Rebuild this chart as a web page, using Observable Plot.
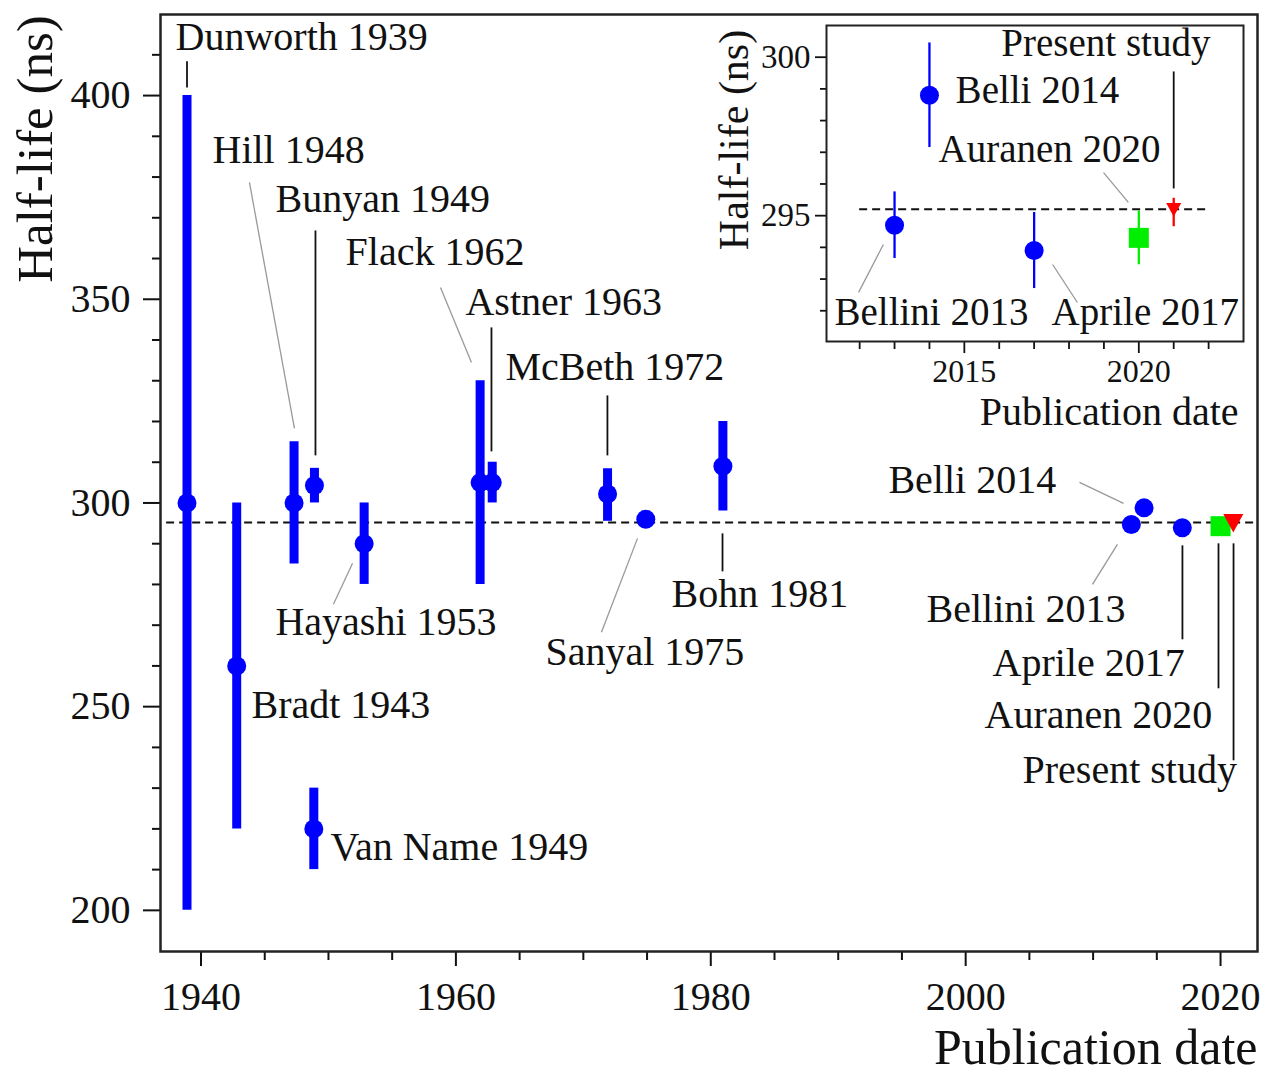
<!DOCTYPE html>
<html><head><meta charset="utf-8">
<script src="https://cdn.jsdelivr.net/npm/d3@7"></script>
<script src="https://cdn.jsdelivr.net/npm/@observablehq/plot@0.6"></script>
<style>
body{margin:0;background:#fff;}
#wrap{position:relative;width:1266px;height:1075px;}
#inset{position:absolute;left:690px;top:0;}
</style></head>
<body><div id="wrap"><div id="main"></div><div id="inset"></div></div>
<script>
// ---------- data ----------
const studies  = ["Dunworth 1939","Bradt 1943","Hill 1948","Bunyan 1949","Van Name 1949","Hayashi 1953","Flack 1962","Astner 1963","McBeth 1972","Sanyal 1975","Bohn 1981","Bellini 2013","Belli 2014","Aprile 2017","Auranen 2020","Present study"];
const pubYear  = [1938.9,1942.8,1947.3,1948.9,1948.85,1952.8,1961.9,1962.85,1971.9,1974.9,1980.95,2013.0,2014.0,2017.0,2020.0,2021.0];
const halfLife = [300,260,300,304.3,220,290,305,305,302.2,296,309,294.7,298.8,293.9,294.3,295.2];
const errLow   = [200,220,285,300,210,280,280,300,295.5,294,298,293.65,297.15,292.7,293.45,294.65];
const errHigh  = [400,300,315,308.5,230,300,330,310,308.4,298,320,295.75,300.45,295.1,295.15,295.55];
const series   = ["prev","prev","prev","prev","prev","prev","prev","prev","prev","prev","prev","prev","prev","prev","auranen","present"];
const seriesColor = {prev:"#0000ff", auranen:"#00ee00", present:"#ff0000"};

const refValue = [295.2];
const mainRefSpan = [1937.3, 2022.8];
const insetRefSpan = [2012.0, 2022.0];

// main ticks
const yMajor = [200,250,300,350,400];
const yMinor = [210,220,230,240,260,270,280,290,310,320,330,340,360,370,380,390,410];
const xMajor = [1940,1960,1980,2000,2020];
const xMinor = [1945,1950,1955,1965,1970,1975,1985,1990,1995,2005,2010,2015];
// inset ticks
const iyMajor = [295,300];
const iyMinor = [292,293,294,296,297,298,299];
const ixMajor = [2015,2020];
const ixMinor = [2012,2013,2014,2016,2017,2018,2019,2021,2022];

// main annotation labels (anchor year, baseline value)
const mainLabelText = ["Dunworth 1939","Hill 1948","Bunyan 1949","Flack 1962","Astner 1963","McBeth 1972","Hayashi 1953","Bradt 1943","Van Name 1949","Sanyal 1975","Bohn 1981","Belli 2014","Bellini 2013","Aprile 2017","Auranen 2020","Present study"];
const mainLabelX = [1938.0,1940.9,1945.84,1951.34,1960.75,1963.89,1945.84,1943.96,1950.16,1967.03,1976.92,1993.94,1996.93,2002.11,2001.48,2004.46];
const mainLabelY = [411.07,383.34,371.31,358.31,346.03,330.08,267.51,247.14,212.29,260.15,274.38,302.35,270.70,257.45,244.69,231.19];

// main leader lines
const mLeadX1 = [1938.9,1943.80,1948.98,1958.79,1962.79,1971.89,1950.39,1971.42,1980.92,2008.93,2009.95,2017.01,2019.84,2021.02];
const mLeadY1 = [408.4,378.67,366.89,352.91,343.09,326.40,275.12,268.25,292.54,305.06,280.02,289.60,290.09,290.09];
const mLeadX2 = [1938.9,1947.33,1948.98,1961.22,1962.79,1971.89,1951.89,1974.25,1980.92,2012.39,2011.91,2017.01,2019.84,2021.02];
const mLeadY2 = [402.0,318.31,311.68,334.50,312.66,311.68,285.18,291.31,283.21,299.90,289.84,266.53,254.51,236.83];
const mLeadKind = ["black","gray","black","gray","black","black","gray","gray","black","gray","gray","black","black","black"];

// inset labels
const insetLabelText = ["Present study","Belli 2014","Auranen 2020","Bellini 2013","Aprile 2017"];
const insetLabelX = [2016.06,2014.75,2014.26,2011.28,2017.5];
const insetLabelY = [300.05,298.54,296.68,291.54,291.54];
// inset leaders
const iLeadX1 = [2021.0,2018.99,2011.97,2017.53];
const iLeadY1 = [299.55,296.36,292.58,293.46];
const iLeadX2 = [2021.0,2019.70,2012.68,2018.24];
const iLeadY2 = [295.86,295.42,294.09,292.26];
const iLeadKind = ["black","gray","gray","gray"];

// ---------- build ----------
const FONT = "'Liberation Serif','Times New Roman',Times,serif";
const leadColor = {black:"#111", gray:"#999"};
const leadWidth = {black:1.8, gray:1.3};

const rows = studies.map((s,i)=>({name:s, year:pubYear[i], value:halfLife[i], lo:errLow[i], hi:errHigh[i], series:series[i], color:seriesColor[series[i]]}));
const modern = rows.filter(d=>d.year>2010);
const mainLabels = mainLabelText.map((t,i)=>({t, x:mainLabelX[i], y:mainLabelY[i]}));
const mainLeads = mLeadX1.map((v,i)=>({x1:v,y1:mLeadY1[i],x2:mLeadX2[i],y2:mLeadY2[i],stroke:leadColor[mLeadKind[i]],w:leadWidth[mLeadKind[i]]}));
const insetLabels = insetLabelText.map((t,i)=>({t, x:insetLabelX[i], y:insetLabelY[i]}));
const insetLeads = iLeadX1.map((v,i)=>({x1:v,y1:iLeadY1[i],x2:iLeadX2[i],y2:iLeadY2[i],stroke:leadColor[iLeadKind[i]],w:leadWidth[iLeadKind[i]]}));

function triDown(top, bot){
  return {draw(ctx,size){const s=Math.sqrt(size/Math.PI);ctx.moveTo(-s,-top*s);ctx.lineTo(s,-top*s);ctx.lineTo(0,bot*s);ctx.closePath();}};
}

function dotMarks(data, rc, rs, rt, tri){
  return [
    Plot.dot(data.filter(d=>d.series==="prev"), {x:"year", y:"value", r:rc, fill:"color", stroke:null}),
    Plot.dot(data.filter(d=>d.series==="auranen"), {x:"year", y:"value", r:rs, symbol:"square", fill:"color", stroke:null}),
    Plot.dot(data.filter(d=>d.series==="present"), {x:"year", y:"value", r:rt, symbol:tri, fill:"color", stroke:null})
  ];
}

const main = Plot.plot({
  width:1266, height:1075,
  marginLeft:160, marginRight:9, marginTop:14, marginBottom:124,
  style:{fontFamily:FONT, background:"transparent", overflow:"visible", color:"#111"},
  x:{domain:[1936.82,2022.9]},
  y:{domain:[189.9,419.9]},
  color:{type:"identity"},
  marks:[
    Plot.axisY(yMajor,{tickSize:17,tickPadding:13,fontSize:40,label:null,strokeWidth:2}),
    Plot.axisY(yMinor,{tickSize:8,text:null,label:null,strokeWidth:2}),
    Plot.axisX(xMajor,{tickSize:15,tickPadding:15,fontSize:40,label:null,strokeWidth:2,tickFormat:d=>String(d)}),
    Plot.axisX(xMinor,{tickSize:9,text:null,label:null,strokeWidth:2}),
    Plot.ruleY(refValue,{x1:mainRefSpan[0],x2:mainRefSpan[1],stroke:"#111",strokeWidth:2,strokeDasharray:"8,5"}),
    Plot.link(mainLeads,{x1:"x1",y1:"y1",x2:"x2",y2:"y2",stroke:"stroke",strokeWidth:"w"}),
    Plot.ruleX(rows,{x:"year",y1:"lo",y2:"hi",stroke:"color",strokeWidth:9}),
    ...dotMarks(rows, 9.5, 11.3, 10, triDown(0.85,1.0)),
    Plot.text(mainLabels,{x:"x",y:"y",text:"t",textAnchor:"start",lineAnchor:"bottom",fontSize:40,fill:"#111"}),
    Plot.text(["Publication date"],{frameAnchor:"bottom-right",dy:112,textAnchor:"end",lineAnchor:"bottom",fontSize:50,fill:"#111"}),
    Plot.frame({stroke:"#222",strokeWidth:2.5})
  ]
});
d3.select(main).append("text")
  .attr("transform","translate(52,149) rotate(-90)")
  .attr("text-anchor","middle").attr("font-size",51).attr("font-family",FONT).attr("fill","#111")
  .text("Half-life (ns)");
document.getElementById("main").appendChild(main);

const inset = Plot.plot({
  width:570, height:440,
  marginLeft:136, marginRight:17, marginTop:25, marginBottom:99,
  style:{fontFamily:FONT, background:"transparent", overflow:"visible", color:"#111"},
  x:{domain:[2011.05,2023.0]},
  y:{domain:[291.03,301.0]},
  color:{type:"identity"},
  marks:[
    Plot.axisY(iyMajor,{tickSize:11,tickPadding:5,fontSize:33,label:null,strokeWidth:1.8}),
    Plot.axisY(iyMinor,{tickSize:6,text:null,label:null,strokeWidth:1.8}),
    Plot.axisX(ixMajor,{tickSize:12,tickPadding:6,fontSize:32,label:null,strokeWidth:1.8,tickFormat:d=>String(d)}),
    Plot.axisX(ixMinor,{tickSize:8,text:null,label:null,strokeWidth:1.8}),
    Plot.ruleY(refValue,{x1:insetRefSpan[0],x2:insetRefSpan[1],stroke:"#111",strokeWidth:2,strokeDasharray:"8,5"}),
    Plot.link(insetLeads,{x1:"x1",y1:"y1",x2:"x2",y2:"y2",stroke:"stroke",strokeWidth:"w"}),
    Plot.ruleX(modern,{x:"year",y1:"lo",y2:"hi",stroke:"color",strokeWidth:2.3}),
    ...dotMarks(modern, 9.5, 11.3, 7.5, triDown(0.85,1.0)),
    Plot.text(insetLabels,{x:"x",y:"y",text:"t",textAnchor:"start",lineAnchor:"bottom",fontSize:39,fill:"#111"}),
    Plot.text(["Publication date"],{frameAnchor:"bottom-right",dy:83,dx:-5,textAnchor:"end",lineAnchor:"bottom",fontSize:40,fill:"#111"}),
    Plot.frame({stroke:"#222",strokeWidth:2})
  ]
});
d3.select(inset).append("text")
  .attr("transform","translate(58,140) rotate(-90)")
  .attr("text-anchor","middle").attr("font-size",42).attr("font-family",FONT).attr("fill","#111")
  .text("Half-life (ns)");
document.getElementById("inset").appendChild(inset);
</script>
</body></html>
